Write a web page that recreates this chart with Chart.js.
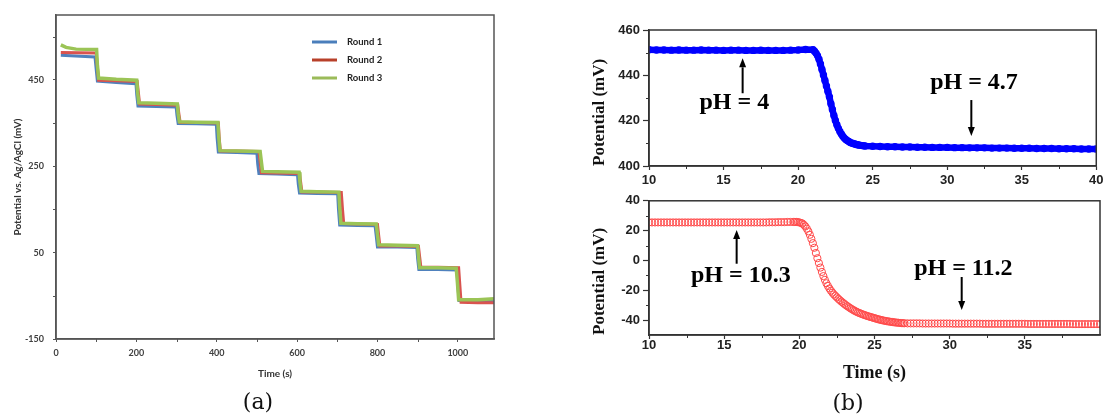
<!DOCTYPE html>
<html><head><meta charset="utf-8">
<script src="https://cdn.jsdelivr.net/npm/chart.js@4.4.0/dist/chart.umd.min.js"></script>
<style>
html,body{margin:0;padding:0;background:#fff;width:1107px;height:419px;overflow:hidden;position:relative}
canvas{position:absolute}
.lab{position:absolute;font-family:"DejaVu Serif",serif;font-size:22px;color:#111;transform:translate(-50%,-50%);white-space:nowrap}
</style></head><body>
<canvas id="ca" width="510" height="419" style="left:0;top:0;width:510px;height:419px"></canvas>
<canvas id="cb1" width="547" height="200" style="left:560px;top:0;width:547px;height:200px"></canvas>
<canvas id="cb2" width="547" height="229" style="left:560px;top:190px;width:547px;height:229px"></canvas>
<div class="lab" style="left:258px;top:401px">(a)</div>
<div class="lab" style="left:848px;top:402px">(b)</div>
<script>
// ---------------- (a) data ----------------
const roundLabels = ['Round 1', 'Round 2', 'Round 3'];
const r1Time = [12, 97, 100, 103, 150, 199, 201, 204, 250, 299, 301, 304, 350, 399, 401, 404, 450, 500, 502, 505, 550, 601, 603, 606, 650, 701, 703, 706, 750, 794, 797, 800, 850, 898, 900, 903, 950, 998, 1000, 1003, 1050, 1090];
const r1Pot  = [507, 503, 475, 447, 444, 441, 415, 389, 388, 387, 368, 349, 348, 347, 315, 283, 282, 280, 255, 233, 232, 230, 208, 188, 187, 186, 150, 114, 113, 112, 88, 63, 63, 62, 36, 11, 11, 10, -25, -61, -62, -62];
const r2Time = [12, 100, 103, 106, 150, 202, 205, 208, 250, 303, 306, 309, 350, 404, 406, 409, 450, 505, 508, 511, 550, 606, 609, 612, 650, 710, 713, 716, 750, 800, 803, 806, 850, 902, 905, 908, 950, 1002, 1005, 1008, 1050, 1090];
const r2Pot  = [513, 512, 480, 449, 448, 446, 420, 394, 393, 391, 370, 351, 351, 350, 318, 285, 285, 284, 260, 235, 234, 233, 212, 190, 190, 189, 150, 117, 116, 115, 90, 65, 65, 64, 40, 16, 16, 15, -25, -65, -66, -66];
const r3Time = [12, 25, 50, 101, 103, 106, 150, 201, 203, 206, 250, 302, 304, 307, 350, 403, 405, 408, 450, 508, 511, 514, 550, 605, 607, 610, 650, 704, 706, 709, 750, 797, 800, 803, 850, 900, 902, 905, 950, 996, 999, 1002, 1050, 1090];
const r3Pot  = [531, 525, 521, 520, 485, 454, 451, 449, 422, 397, 396, 394, 372, 353, 352, 351, 318, 286, 285, 284, 261, 238, 237, 236, 214, 192, 191, 190, 155, 118, 117, 116, 92, 68, 67, 66, 42, 15, 15, 14, -20, -59, -59, -57];
const aXTicks = [0, 200, 400, 600, 800, 1000];
const aXMinor = [100, 300, 500, 700, 900];
const aYTicks = [-150, 50, 250, 450];
const aYMinor = [-50, 150, 350, 550];
const aXTitle = 'Time (s)';
const aYTitle = 'Potential vs. Ag/AgCl (mV)';

// ---------------- (b) data ----------------
const acidTime = [10,10.5,11,11.5,12,12.5,13,13.5,14,14.5,15,15.5,16,16.5,17,17.5,18,18.5,19,19.5,20,20.5,21,
 21.1,21.2,21.3,21.4,21.5,21.6,21.7,21.8,21.9,22,22.1,22.2,22.3,22.4,22.5,22.6,22.7,22.8,22.9,23,23.1,23.2,23.3,23.4,23.5,23.6,23.7,23.8,23.9,24,24.1,24.2,24.3,24.4,24.5,
 25,25.5,26,26.5,27,27.5,28,28.5,29,29.5,30,30.5,31,31.5,32,32.5,33,33.5,34,34.5,35,35.5,36,36.5,37,37.5,38,38.5,39,39.5,40];
const acidPot = [451.3,451.2,451.2,451.1,451.2,451.1,451.1,451.2,451.1,451.1,451.0,451.1,451.1,451.0,451.0,451.1,451.0,451.0,451.0,451.1,451.2,451.4,451.3,
 450.6,449.8,448.7,447.1,445.0,442.6,440.2,437.7,435.3,432.9,430.5,427.5,424.9,422.3,420.1,418.2,416.6,415.2,414.1,413.1,412.3,411.7,411.2,410.8,410.4,410.1,409.9,409.7,409.5,409.4,409.2,409.1,409.0,408.9,408.8,
 408.7,408.6,408.5,408.5,408.4,408.4,408.3,408.3,408.2,408.2,408.2,408.1,408.1,408.0,408.0,408.0,407.9,407.9,407.9,407.8,407.8,407.8,407.7,407.7,407.7,407.6,407.6,407.6,407.5,407.5,407.5];
const baseTime = [10,10.2,10.4,10.6,10.8,11,11.2,11.4,11.6,11.8,12,12.2,12.4,12.6,12.8,13,13.2,13.4,13.6,13.8,14,14.2,14.4,14.6,14.8,
 15,15.2,15.4,15.6,15.8,16,16.2,16.4,16.6,16.8,17,17.2,17.4,17.6,17.8,18,18.2,18.4,18.6,18.8,19,19.2,19.4,19.6,
 19.7,19.8,19.9,20,20.1,20.2,20.3,20.4,20.5,20.6,20.7,20.8,20.9,21,21.1,21.2,21.3,21.4,21.5,21.6,21.7,21.8,21.9,
 22,22.1,22.2,22.3,22.4,22.5,22.6,22.7,22.8,22.9,23,23.1,23.2,23.3,23.4,23.5,23.6,23.7,23.8,23.9,
 24,24.1,24.2,24.3,24.4,24.5,24.6,24.7,24.8,24.9,25,25.1,25.2,25.3,25.4,25.5,25.6,25.7,25.8,25.9,
 26,26.1,26.2,26.3,26.4,26.5,26.6,26.7,26.8,26.9,27,
 27.2,27.4,27.6,27.8,28,28.2,28.4,28.6,28.8,29,29.2,29.4,29.6,29.8,30,30.2,30.4,30.6,30.8,31,31.2,31.4,31.6,31.8,32,32.2,32.4,32.6,32.8,33,
 33.2,33.4,33.6,33.8,34,34.2,34.4,34.6,34.8,35,35.2,35.4,35.6,35.8,36,36.2,36.4,36.6,36.8,37,37.2,37.4,37.6,37.8,38,38.2,38.4,38.6,38.8,39,39.2,39.4,39.6,39.8,40];
const basePot = [25.5,25.5,25.5,25.5,25.5,25.5,25.5,25.5,25.5,25.5,25.5,25.5,25.5,25.5,25.5,25.5,25.5,25.5,25.5,25.5,25.5,25.5,25.5,25.5,25.5,
 25.5,25.5,25.5,25.5,25.5,25.5,25.5,25.5,25.5,25.5,25.5,25.5,25.5,25.5,25.5,25.6,25.6,25.6,25.7,25.7,25.7,25.8,25.8,25.8,
 25.8,25.8,25.7,25.5,25.2,24.8,23.9,22.8,21.3,19.5,17.2,14.5,11.6,8.5,5.0,1.5,-1.7,-4.8,-7.7,-10.5,-13.0,-15.3,-17.1,
 -18.8,-20.3,-21.6,-22.8,-23.8,-24.8,-25.8,-26.7,-27.6,-28.4,-29.2,-30.0,-30.7,-31.4,-32.1,-32.7,-33.3,-33.9,-34.4,-34.9,
 -35.3,-35.7,-36.1,-36.5,-36.8,-37.2,-37.5,-37.8,-38.1,-38.4,-38.7,-39.0,-39.3,-39.6,-39.8,-40.1,-40.3,-40.5,-40.7,-40.9,
 -41.0,-41.2,-41.3,-41.5,-41.6,-41.7,-41.8,-41.9,-42.0,-42.1,-42.1,
 -42.2,-42.2,-42.2,-42.2,-42.2,-42.3,-42.3,-42.3,-42.3,-42.3,-42.3,-42.3,-42.3,-42.3,-42.3,-42.4,-42.4,-42.4,-42.4,-42.4,-42.4,-42.4,-42.4,-42.4,-42.4,-42.5,-42.5,-42.5,-42.5,-42.5,
 -42.5,-42.5,-42.5,-42.5,-42.5,-42.5,-42.5,-42.5,-42.5,-42.5,-42.6,-42.6,-42.6,-42.6,-42.6,-42.6,-42.6,-42.6,-42.6,-42.6,-42.6,-42.6,-42.6,-42.6,-42.6,-42.7,-42.7,-42.7,-42.7,-42.7,-42.7,-42.7,-42.7,-42.7,-42.7];
const bXTicks = [10, 15, 20, 25, 30, 35, 40];
const bXMinor = [12.5, 17.5, 22.5, 27.5, 32.5, 37.5];
const bTopYTicks = [400, 420, 440, 460];
const bTopYMinor = [410, 430, 450];
const bBotXTicks = [10, 15, 20, 25, 30, 35];
const bBotYTicks = [-40, -20, 0, 20, 40];
const bBotYMinor = [-30, -10, 10, 30];
const bYTitle = 'Potential (mV)';
const bXTitle = 'Time (s)';
const acidNotes = [{text: 'pH = 4', x: 15.72, y: 428.0}, {text: 'pH = 4.7', x: 31.8, y: 436.5}];
const acidArrows = [{x: 16.28, from: 432.1, to: 447.5}, {x: 31.62, from: 429.1, to: 413.2}];
const baseNotes = [{text: 'pH = 10.3', x: 16.11, y: -10.5}, {text: 'pH = 11.2', x: 30.91, y: -5.6}];
const baseArrows = [{x: 15.83, from: -2.2, to: 20.4}, {x: 30.8, from: -11.1, to: -33.3}];

// ---------------- helpers ----------------
const toPts = (xs, ys) => xs.map((t, i) => ({x: t, y: ys[i]}));
const setTicks = arr => s => { s.ticks = arr.map(v => ({value: v})); };

function framePlugin(id, color, width, minorX, minorY, minorLen) {
  return { id, afterDatasetsDraw(chart) {
    const {ctx, chartArea: a, scales: {x, y}} = chart;
    ctx.save();
    ctx.strokeStyle = color; ctx.lineWidth = width;
    ctx.strokeRect(a.left, a.top, a.right - a.left, a.bottom - a.top);
    ctx.lineWidth = 1;
    ctx.beginPath();
    minorX.forEach(v => { const p = Math.round(x.getPixelForValue(v)) + 0.5; ctx.moveTo(p, a.bottom); ctx.lineTo(p, a.bottom + minorLen); });
    minorY.forEach(v => { const p = Math.round(y.getPixelForValue(v)) + 0.5; ctx.moveTo(a.left - minorLen, p); ctx.lineTo(a.left, p); });
    ctx.stroke();
    ctx.restore();
  }};
}
function notesPlugin(id, notes, arrows) {
  return { id, afterDatasetsDraw(chart) {
    const {ctx, scales: {x, y}} = chart;
    ctx.save();
    ctx.fillStyle = '#000'; ctx.strokeStyle = '#000';
    ctx.font = 'bold 24px "Liberation Serif", "Times New Roman", serif';
    ctx.textAlign = 'center'; ctx.textBaseline = 'middle';
    notes.forEach(n => ctx.fillText(n.text, x.getPixelForValue(n.x), y.getPixelForValue(n.y)));
    arrows.forEach(ar => {
      const px = x.getPixelForValue(ar.x), y1 = y.getPixelForValue(ar.from), y2 = y.getPixelForValue(ar.to);
      const dir = Math.sign(y2 - y1), head = 9;
      ctx.lineWidth = 2;
      ctx.beginPath(); ctx.moveTo(px, y1); ctx.lineTo(px, y2 - dir * head); ctx.stroke();
      ctx.beginPath(); ctx.moveTo(px, y2); ctx.lineTo(px - 3.5, y2 - dir * head); ctx.lineTo(px + 3.5, y2 - dir * head); ctx.closePath(); ctx.fill();
    });
    ctx.restore();
  }};
}
const legendA = { id: 'legendA', afterDraw(chart) {
  const ctx = chart.ctx; ctx.save();
  const x0 = 312, y0 = 42, gap = 18, len = 25;
  chart.data.datasets.forEach((ds, i) => {
    const yy = y0 + i * gap;
    ctx.strokeStyle = ds.legendColor; ctx.lineWidth = 3;
    ctx.beginPath(); ctx.moveTo(x0, yy); ctx.lineTo(x0 + len, yy); ctx.stroke();
    ctx.fillStyle = '#222'; ctx.font = 'bold 9.5px Lato, "Liberation Sans", sans-serif';
    ctx.textBaseline = 'middle'; ctx.textAlign = 'left';
    ctx.fillText(ds.label, x0 + len + 10, yy);
  });
  ctx.restore();
}};

// ---------------- chart (a) ----------------
const fA = 'Lato, "Liberation Sans", sans-serif';
new Chart(document.getElementById('ca'), {
  type: 'line',
  data: { datasets: [
    {label: roundLabels[0], data: toPts(r1Time, r1Pot), borderColor: '#4f81bd', legendColor: '#4a7ebb', borderWidth: 3, pointRadius: 0, tension: 0, order: 2},
    {label: roundLabels[1], data: toPts(r2Time, r2Pot), borderColor: '#d9534f', legendColor: '#b8402a', borderWidth: 3, pointRadius: 0, tension: 0, order: 1},
    {label: roundLabels[2], data: toPts(r3Time, r3Pot), borderColor: '#9bc456', legendColor: '#9bbb59', borderWidth: 3.5, pointRadius: 0, tension: 0, order: 0}
  ]},
  options: {
    responsive: false, animation: false, devicePixelRatio: 1,
    layout: {padding: {left: 0, top: 15, right: 16, bottom: 35}},
    plugins: {legend: {display: false}, tooltip: {enabled: false}},
    scales: {
      x: { type: 'linear', min: 0, max: 1090,
        afterBuildTicks: setTicks(aXTicks), afterFit: s => { s.height = 45; },
        ticks: {autoSkip: false, maxRotation: 0, padding: 6, color: '#404040', font: {family: fA, size: 9, weight: 'bold'}, callback: v => String(v)},
        grid: {drawOnChartArea: false, tickLength: 3, tickColor: '#555'},
        border: {color: '#555', width: 1.5},
        title: {display: true, text: aXTitle, color: '#333', font: {family: fA, size: 10, weight: 'bold'}, padding: {top: 0, bottom: 4}} },
      y: { type: 'linear', min: -150, max: 600,
        afterBuildTicks: setTicks(aYTicks), afterFit: s => { s.width = 56; },
        ticks: {autoSkip: false, padding: 9, color: '#404040', font: {family: fA, size: 9, weight: 'bold'}, callback: v => String(v)},
        grid: {drawOnChartArea: false, tickLength: 3, tickColor: '#555'},
        border: {color: '#555', width: 1.5},
        title: {display: true, text: aYTitle, color: '#333', font: {family: fA, size: 10, weight: 'bold'}, padding: {top: 12, bottom: 0}} }
    }
  },
  plugins: [framePlugin('frameA', '#555', 1.5, aXMinor, aYMinor, 3), legendA]
});

// ---------------- chart (b) ----------------
const fB = '"Liberation Sans", Arial, sans-serif';
const fBT = '"Liberation Serif", "Times New Roman", serif';
function bScales(yMin, yMax, yTicks, xTicks, xPad, withXTitle, xHeight) {
  return {
    x: { type: 'linear', min: 10, max: 40,
      afterBuildTicks: setTicks(xTicks), afterFit: s => { s.height = xHeight; },
      ticks: {autoSkip: false, maxRotation: 0, padding: xPad, color: '#222', font: {family: fB, size: 13, weight: 'bold', lineHeight: 1}, callback: v => String(v)},
      grid: {drawOnChartArea: false, tickLength: 4, tickColor: '#333', tickWidth: 1.2},
      border: {color: '#333', width: 1.5},
      title: {display: withXTitle, text: bXTitle, color: '#111', font: {family: fBT, size: 18, weight: 'bold'}, padding: {top: 0, bottom: 11}} },
    y: { type: 'linear', min: yMin, max: yMax,
      afterBuildTicks: setTicks(yTicks), afterFit: s => { s.width = 89; },
      ticks: {autoSkip: false, padding: 3, color: '#222', font: {family: fB, size: 13, weight: 'bold'}, callback: v => String(v)},
      grid: {drawOnChartArea: false, tickLength: 6, tickColor: '#333', tickWidth: 1.2},
      border: {color: '#333', width: 1.5},
      title: {display: true, text: bYTitle, align: 'start', color: '#111', font: {family: fBT, size: 17, weight: 'bold'}, padding: {top: 29, bottom: 0}} }
  };
}
new Chart(document.getElementById('cb1'), {
  type: 'scatter',
  data: { datasets: [{label: 'pH 4 to 4.7', data: toPts(acidTime, acidPot), showLine: true, borderColor: '#0000ff', borderWidth: 6.5,
    pointRadius: 3.7, pointBackgroundColor: '#0000ff', pointBorderWidth: 0}]},
  options: {
    responsive: false, animation: false, devicePixelRatio: 1,
    layout: {padding: {left: 0, top: 30, right: 7, bottom: 4}},
    plugins: {legend: {display: false}, tooltip: {enabled: false}},
    scales: bScales(400, 460, bTopYTicks, bXTicks, 3.5, false, 30)
  },
  plugins: [framePlugin('frameB1', '#333', 1.5, bXMinor, bTopYMinor, 3), notesPlugin('notesB1', acidNotes, acidArrows)]
});
new Chart(document.getElementById('cb2'), {
  type: 'scatter',
  data: { datasets: [{label: 'pH 10.3 to 11.2', data: toPts(baseTime, basePot), showLine: false,
    pointRadius: 3.6, pointBorderColor: '#ff4a4a', pointBackgroundColor: 'rgba(0,0,0,0)', pointBorderWidth: 1}]},
  options: {
    responsive: false, animation: false, devicePixelRatio: 1,
    layout: {padding: {left: 0, top: 10, right: 7, bottom: 24}},
    plugins: {legend: {display: false}, tooltip: {enabled: false}},
    scales: bScales(-50, 40, bBotYTicks, bBotXTicks, 0, true, 60)
  },
  plugins: [framePlugin('frameB2', '#333', 1.5, bXMinor, bBotYMinor, 3), notesPlugin('notesB2', baseNotes, baseArrows)]
});
</script>
</body></html>
